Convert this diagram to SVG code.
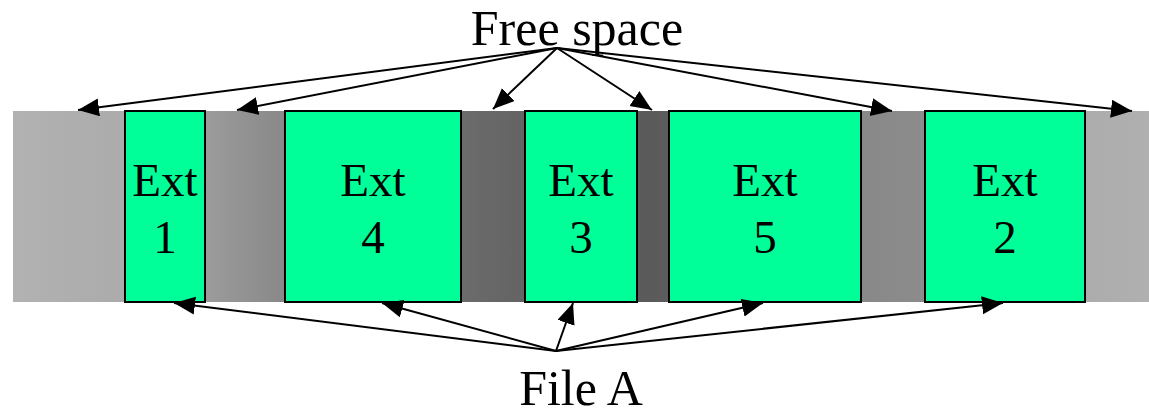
<svg xmlns="http://www.w3.org/2000/svg" width="1149" height="416" viewBox="0 0 1149 416">
  <style>
    .ext { fill: #00ff99; stroke: #000; stroke-width: 2; }
    .lbl { font-family: "Liberation Serif", "Times New Roman", serif; fill: #000; text-anchor: middle; }
    .ext-t { font-size: 47px; }
    .cap { font-size: 50px; }
    .conn line { stroke: #000; stroke-width: 2; fill: none; marker-end: url(#head); }
  </style>
  <defs>
    <!-- disk band: light at both ends, darkest near the middle -->
    <linearGradient id="band" gradientUnits="userSpaceOnUse" x1="13" y1="0" x2="1149" y2="0">
      <stop offset="0" stop-color="#b2b2b2"/>
      <stop offset="0.099" stop-color="#ababab"/>
      <stop offset="0.169" stop-color="#9c9c9c"/>
      <stop offset="0.240" stop-color="#888888"/>
      <stop offset="0.394" stop-color="#6c6c6c"/>
      <stop offset="0.451" stop-color="#636363"/>
      <stop offset="0.561" stop-color="#5a5a5a"/>
      <stop offset="0.578" stop-color="#5d5d5d"/>
      <stop offset="0.746" stop-color="#888888"/>
      <stop offset="0.803" stop-color="#8c8c8c"/>
      <stop offset="0.944" stop-color="#acacac"/>
      <stop offset="1" stop-color="#b0b0b0"/>
    </linearGradient>
    <marker id="head" markerUnits="userSpaceOnUse" markerWidth="24" markerHeight="20" refX="21" refY="9" orient="auto">
      <path d="M0,0 L21,9 L0,18 Z" fill="#000"/>
    </marker>
  </defs>

  <rect id="band-bg" x="13" y="111" width="1136" height="191" fill="url(#band)"/>

  <g id="ext1">
    <rect class="ext" x="125" y="111" width="80" height="191"/>
    <text class="lbl ext-t" x="165" y="196">Ext</text>
    <text class="lbl ext-t" x="165" y="253">1</text>
  </g>
  <g id="ext4">
    <rect class="ext" x="285" y="111" width="176" height="191"/>
    <text class="lbl ext-t" x="373" y="196">Ext</text>
    <text class="lbl ext-t" x="373" y="253">4</text>
  </g>
  <g id="ext3">
    <rect class="ext" x="525" y="111" width="112" height="191"/>
    <text class="lbl ext-t" x="581" y="196">Ext</text>
    <text class="lbl ext-t" x="581" y="253">3</text>
  </g>
  <g id="ext5">
    <rect class="ext" x="669" y="111" width="192" height="191"/>
    <text class="lbl ext-t" x="765" y="196">Ext</text>
    <text class="lbl ext-t" x="765" y="253">5</text>
  </g>
  <g id="ext2">
    <rect class="ext" x="925" y="111" width="160" height="191"/>
    <text class="lbl ext-t" x="1005" y="196">Ext</text>
    <text class="lbl ext-t" x="1005" y="253">2</text>
  </g>

  <g id="free-space">
    <text class="lbl cap" x="577" y="45">Free space</text>
  </g>
  <g id="file-a">
    <text class="lbl cap" x="581" y="405">File A</text>
  </g>

  <g id="connectors" class="conn">
    <!-- free space gaps -->
    <line x1="557" y1="48" x2="78" y2="110"/>
    <line x1="557" y1="48" x2="237" y2="110"/>
    <line x1="557" y1="48" x2="493" y2="109"/>
    <line x1="557" y1="48" x2="652" y2="110"/>
    <line x1="557" y1="48" x2="892" y2="111"/>
    <line x1="557" y1="48" x2="1132" y2="111"/>
    <!-- extents of the file -->
    <line x1="556" y1="351" x2="174" y2="303"/>
    <line x1="556" y1="351" x2="382" y2="303"/>
    <line x1="556" y1="351" x2="573" y2="303"/>
    <line x1="556" y1="351" x2="763" y2="303"/>
    <line x1="556" y1="351" x2="1003" y2="303"/>
  </g>
</svg>
